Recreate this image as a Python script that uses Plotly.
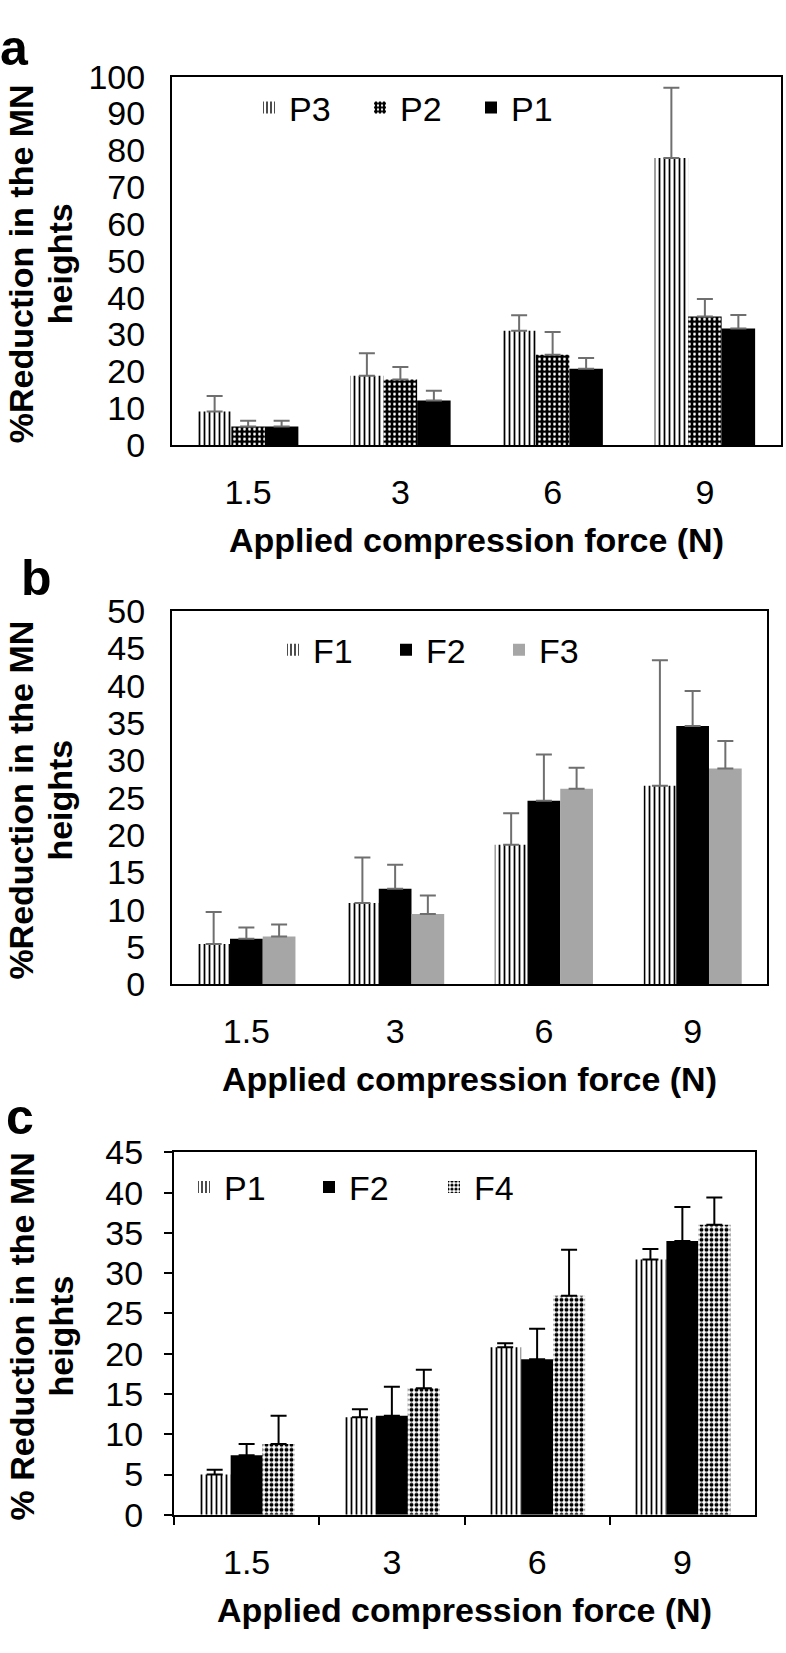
import plotly.graph_objects as go

categories = ["1.5", "3", "6", "9"]

# Panel a
a_P3 = [9.1, 18.8, 31.0, 77.9]
a_P3_err = [4.2, 6.1, 4.2, 19.1]
a_P2 = [5.0, 17.8, 24.5, 34.9]
a_P2_err = [1.6, 3.4, 6.2, 4.7]
a_P1 = [5.0, 12.1, 20.7, 31.6]
a_P1_err = [1.6, 2.6, 2.9, 3.7]

# Panel b
b_F1 = [5.4, 10.9, 18.7, 26.6]
b_F1_err = [4.3, 6.1, 4.2, 16.8]
b_F2 = [6.1, 12.8, 24.6, 34.6]
b_F2_err = [1.5, 3.2, 6.2, 4.7]
b_F3 = [6.4, 9.4, 26.2, 28.9]
b_F3_err = [1.6, 2.5, 2.8, 3.7]

# Panel c
c_P1 = [5.0, 12.1, 20.8, 31.7]
c_P1_err = [0.6, 1.0, 0.5, 1.3]
c_F2 = [7.4, 12.3, 19.3, 34.0]
c_F2_err = [1.4, 3.6, 3.8, 4.2]
c_F4 = [8.8, 15.7, 27.2, 36.0]
c_F4_err = [3.5, 2.3, 5.7, 3.4]

W, H = 786, 1653
FONT = "Liberation Sans, Arial, sans-serif"
GRAY_ERR = "#6f6f6f"

def px_x(p):
    return p / W

def px_y(p):
    return 1 - p / H

PAT_VLINES = dict(shape="|", fgcolor="black", bgcolor="white", size=5, solidity=0.35, fillmode="replace")
PAT_DASH = dict(shape=".", fgcolor="white", bgcolor="black", size=5, solidity=0.25, fillmode="replace")
PAT_CHECK = dict(shape=".", fgcolor="black", bgcolor="white", size=5, solidity=0.5, fillmode="replace")

def bar(name, vals, errs, xa, ya, leg, color="black", pattern=None, errcolor=GRAY_ERR):
    marker = dict(color=color, line=dict(width=0))
    if pattern is not None:
        marker["pattern"] = pattern
    return go.Bar(
        name=name, x=categories, y=vals, xaxis=xa, yaxis=ya, legend=leg,
        marker=marker,
        error_y=dict(type="data", array=errs, symmetric=False, arrayminus=[0] * len(errs),
                     color=errcolor, thickness=2, width=8),
    )

fig = go.Figure()
# a
fig.add_trace(bar("P3", a_P3, a_P3_err, "x", "y", "legend", color="white", pattern=PAT_VLINES))
fig.add_trace(bar("P2", a_P2, a_P2_err, "x", "y", "legend", color="black", pattern=PAT_DASH))
fig.add_trace(bar("P1", a_P1, a_P1_err, "x", "y", "legend", color="black"))
# b
fig.add_trace(bar("F1", b_F1, b_F1_err, "x2", "y2", "legend2", color="white", pattern=PAT_VLINES))
fig.add_trace(bar("F2", b_F2, b_F2_err, "x2", "y2", "legend2", color="black"))
fig.add_trace(bar("F3", b_F3, b_F3_err, "x2", "y2", "legend2", color="#a6a6a6"))
# c
fig.add_trace(bar("P1", c_P1, c_P1_err, "x3", "y3", "legend3", color="white", pattern=PAT_VLINES, errcolor="black"))
fig.add_trace(bar("F2", c_F2, c_F2_err, "x3", "y3", "legend3", color="black", errcolor="black"))
fig.add_trace(bar("F4", c_F4, c_F4_err, "x3", "y3", "legend3", color="white", pattern=PAT_CHECK, errcolor="black"))

tickfont = dict(family=FONT, size=34, color="black")

def xaxis(domain, anchor, ticks=""):
    return dict(domain=domain, anchor=anchor, type="category", showline=True, linecolor="black",
                linewidth=2, mirror=True, ticks=ticks, ticklen=8, tickcolor="black", tickwidth=2,
                tickfont=tickfont, ticklabelstandoff=16, showgrid=False, zeroline=False,
                tickson="boundaries" if ticks else "labels", fixedrange=True)

def yaxis(domain, anchor, rng, dtick, ticks=""):
    return dict(domain=domain, anchor=anchor, range=rng, dtick=dtick, showline=True, linecolor="black",
                linewidth=2, mirror=True, ticks=ticks, ticklen=8, tickcolor="black", tickwidth=2,
                tickfont=tickfont, ticklabelstandoff=18 if not ticks else 14, showgrid=False,
                zeroline=False, fixedrange=True)

legfont = dict(family=FONT, size=34, color="black")

def legend(xp, yp, ew):
    return dict(orientation="h", x=px_x(xp), y=px_y(yp), xanchor="left", yanchor="middle",
                font=legfont, bgcolor="rgba(0,0,0,0)", entrywidth=ew, entrywidthmode="pixels",
                tracegroupgap=0, itemclick=False)

fig.update_layout(
    width=W, height=H, margin=dict(l=0, r=0, t=0, b=0),
    paper_bgcolor="white", plot_bgcolor="white",
    barmode="group", bargap=0.34, bargroupgap=0,
    font=dict(family=FONT, color="black"),
    xaxis=xaxis([px_x(172), px_x(781)], "y"),
    yaxis=yaxis([px_y(436), px_y(59)], "x", [0, 100], 10),
    xaxis2=xaxis([px_x(172), px_x(767)], "y2"),
    yaxis2=yaxis([px_y(988), px_y(606)], "x2", [0, 50], 5),
    xaxis3=xaxis([px_x(174), px_x(755)], "y3", ticks="outside"),
    yaxis3=yaxis([px_y(1531), px_y(1160)], "x3", [0, 45], 5, ticks="outside"),
    legend=legend(249, 91, 66),
    legend2=legend(273, 646, 68),
    legend3=legend(184, 1196, 80),
    showlegend=True,
)

title_font = dict(family=FONT, size=34, color="black")
annots = [
    dict(text="<b>a</b>", x=px_x(14), y=px_y(30)),
    dict(text="<b>b</b>", x=px_x(36), y=px_y(572)),
    dict(text="<b>c</b>", x=px_x(20), y=px_y(1124)),
]
for a in annots:
    a.update(xref="paper", yref="paper", showarrow=False, xanchor="center", yanchor="middle",
             font=dict(family=FONT, size=50, color="black"))
for (yc, line1) in [(251, "%Reduction in the MN"),
                    ((988 + 606) / 2 + 3, "%Reduction in the MN"),
                    ((1531 + 1160) / 2 + 3, "% Reduction in the MN")]:
    for (xc, txt) in [(21, line1), (60, "heights")]:
        annots.append(dict(text="<b>" + txt + "</b>", x=px_x(xc), y=px_y(yc), xref="paper", yref="paper",
                           showarrow=False, textangle=-90, xanchor="center", yanchor="middle",
                           font=title_font))
for (xc, yc) in [((172 + 781) / 2, 436 + 97), ((172 + 767) / 2, 988 + 97), ((174 + 755) / 2, 1531 + 97)]:
    annots.append(dict(text="<b>Applied compression force (N)</b>", x=px_x(xc), y=px_y(yc),
                       xref="paper", yref="paper", showarrow=False, xanchor="center", yanchor="middle",
                       font=title_font))
fig.update_layout(annotations=annots)

fig.write_html("out.html", config={"displayModeBar": False},
               post_script="document.body.style.margin='0';document.body.style.overflow='hidden';")
